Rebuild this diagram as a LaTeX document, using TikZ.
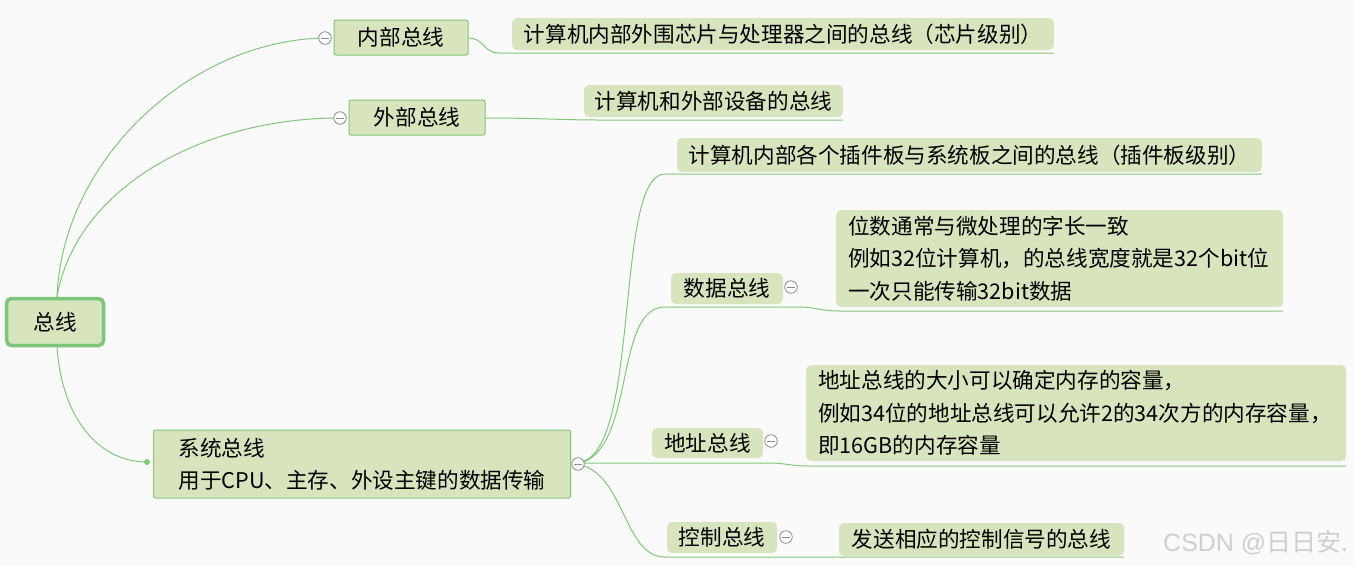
\documentclass[tikz,border=0pt]{standalone}
\usepackage{fontspec}
\newfontfamily\cjk{Noto Sans CJK SC}
\newfontfamily\wmlatin{Liberation Sans}
\usetikzlibrary{calc}
\definecolor{boxfill}{HTML}{D7E4BD}
\definecolor{linegreen}{HTML}{82C77A}
\definecolor{rootborder}{HTML}{7DC57A}
\definecolor{wm}{HTML}{CFCFCF}
\tikzset{
  txt/.style={font=\cjk\fontsize{21.6}{32.3}\selectfont, text=black},
  rootbox/.style={txt, fill=boxfill, draw=rootborder, line width=3.5pt, rounded corners=5pt, minimum width=97, minimum height=47, inner sep=0},
  mainbox/.style={txt, fill=boxfill, draw=linegreen, line width=1pt, rounded corners=2pt, inner sep=0},
  leafbox/.style={txt, fill=boxfill, rounded corners=5pt, inner sep=0},
  multibox/.style={txt, fill=boxfill, rounded corners=5pt, inner xsep=12, inner ysep=0, align=left},
  conn/.style={draw=linegreen, line width=1pt},
  fold/.style={circle, draw=gray!90, fill=white, line width=0.8pt, minimum size=12.5, inner sep=0,
    path picture={\draw[gray!90, line width=0.8pt] ([xshift=-3.8]path picture bounding box.center) -- ([xshift=3.8]path picture bounding box.center);}},
}
\begin{document}
\begin{tikzpicture}[x=1pt,y=-1pt]
\useasboundingbox (0,0) rectangle (1355,566);
\fill[white!98!black] (0,0) rectangle (1355,566);

% fold marker positions
\coordinate (c1) at (325,38);
\coordinate (c2) at (340,118);
\coordinate (cs) at (578,464);
\coordinate (cd) at (791,287);
\coordinate (ca) at (771,441);
\coordinate (cc) at (786,537);

% connectors (drawn first)
\path[conn] (57,297) coordinate (rt) .. controls (62,160) and (190,40) .. (c1);
\path[conn] (rt) .. controls (75,190) and (200,118) .. (c2);
\path[conn] (57,347) coordinate (rb) .. controls (62,420) and (100,462) .. (147,462) coordinate (dot);

\path[conn] (468,38) .. controls (485,38) and (482,53) .. (500,53) -- (1054,53);
\path[conn] (485,118) .. controls (540,118) and (560,120) .. (600,120) -- (843,120);

\path[conn] (584,461) .. controls (640,440) and (615,174) .. (665,174) -- (1262,174);
\path[conn] (584,462) .. controls (635,440) and (615,307) .. (665,307) -- (800,307) .. controls (815,307) and (820,311) .. (840,311) -- (1283,311);
\path[conn] (584,463) -- (770,463) .. controls (785,463) and (790,466) .. (810,466) -- (1346,466);
\path[conn] (584,466) .. controls (625,480) and (625,557) .. (665,557) -- (1124,557);

\fill[linegreen] (dot) circle (3);

% root
\node[rootbox] (root) at (55,322) {总线};

% level 1
\node[mainbox, minimum width=134, minimum height=35] (nb) at (401,37.5) {内部总线};
\node[mainbox, minimum width=136, minimum height=35] (wb) at (417,117.5) {外部总线};
\node[mainbox, anchor=west, minimum height=68, text width=367, inner xsep=25, align=left] (sys) at (153,464) {系统总线\\用于CPU、主存、外设主键的数据传输};

% leaves of 内部/外部
\node[leafbox, minimum width=542, minimum height=32] (l1) at (783,34) {计算机内部外围芯片与处理器之间的总线（芯片级别）};
\node[leafbox, minimum width=259, minimum height=32] (l2) at (713.5,101) {计算机和外部设备的总线};

% children of 系统总线
\node[leafbox, minimum width=585, minimum height=34] (s1) at (969.5,155) {计算机内部各个插件板与系统板之间的总线（插件板级别）};
\node[leafbox, minimum width=112, minimum height=31] (db) at (727,288.5) {数据总线};
\node[multibox, anchor=west, text width=423, minimum height=97] (dc) at (836,258.5) {位数通常与微处理的字长一致\\例如32位计算机，的总线宽度就是32个bit位\\一次只能传输32bit数据};
\node[leafbox, minimum width=111, minimum height=30] (ab) at (707.5,443) {地址总线};
\node[multibox, anchor=west, text width=516, minimum height=96] (ac) at (806,413) {地址总线的大小可以确定内存的容量，\\例如34位的地址总线可以允许2的34次方的内存容量，\\即16GB的内存容量};
\node[leafbox, minimum width=110, minimum height=31] (kb) at (722,537.5) {控制总线};
\node[leafbox, minimum width=285, minimum height=33] (kc) at (981.5,539.5) {发送相应的控制信号的总线};

% fold markers
\node[fold] (f1) at (c1) {};
\node[fold] (f2) at (c2) {};
\node[fold] (fs) at (cs) {};
\node[fold] (fd) at (cd) {};
\node[fold] (fa) at (ca) {};
\node[fold] (fc) at (cc) {};

% watermark
\node[font=\cjk\fontsize{25}{28}\selectfont, text=wm, anchor=west, inner sep=0] (wmk) at (1163,543) {{\wmlatin CSDN @}日日安.};
\end{tikzpicture}
\end{document}
